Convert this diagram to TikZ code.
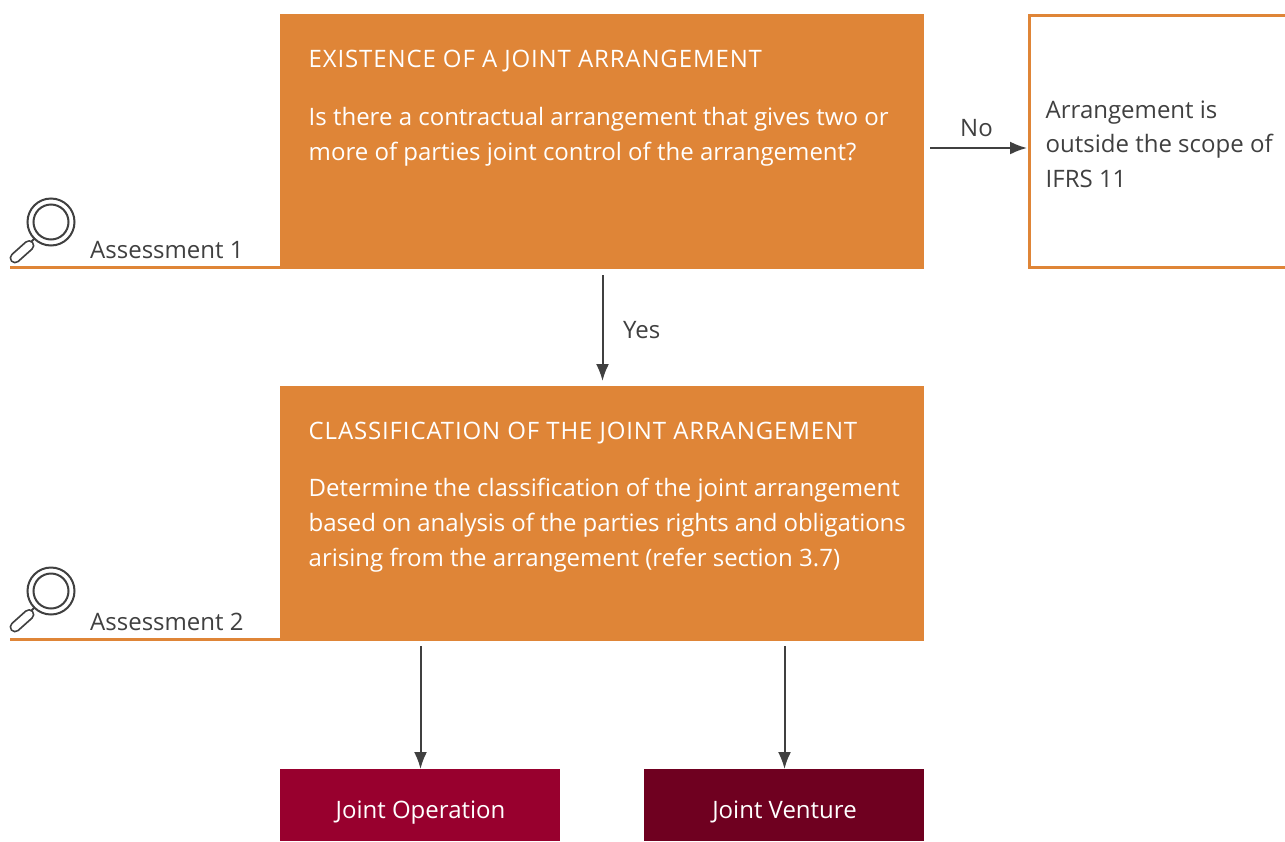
\documentclass[tikz,border=0pt]{standalone}
\usepackage{fontspec}
\setmainfont{Open Sans}
\usetikzlibrary{arrows.meta}
\definecolor{orangeb}{HTML}{DF8537}
\definecolor{txt}{HTML}{404040}
\definecolor{redb}{HTML}{98002E}
\definecolor{darkb}{HTML}{6F0020}
\tikzset{x=1pt,y=-1pt,
 txtl/.style={anchor=base west,inner sep=0,font=\fontsize{24}{28}\selectfont},
 wtxt/.style={txtl,text=white},
 dtxt/.style={txtl,text=txt},
 capt/.style={wtxt,font=\fontsize{24}{28}\selectfont\addfontfeature{LetterSpace=3.6}},
 tight/.style={wtxt,font=\fontsize{24}{28}\selectfont\addfontfeature{LetterSpace=-0.4}},
 box/.style={fill=#1,draw=none,inner sep=0,anchor=north west},
 conn/.style={draw=txt,line width=2pt,-{Latex[length=17pt,width=13pt]}},
 orule/.style={draw=orangeb,line width=2.4pt},
 lensline/.style={draw=txt,line width=2pt},
}
\newcommand{\lens}[2]{%
\begin{scope}[shift={(#1,#2)}]
\draw[lensline] (41,24) circle (23.5);
\draw[lensline] (41,24) circle (17.5);
\draw[lensline] (24.5,40.5) -- (20,45);
\draw[txt,line width=11pt,line cap=round] (19,47.5) -- (5,60);
\draw[white,line width=7.4pt,line cap=round] (19,47.5) -- (5,60);
\end{scope}}
\begin{document}
\begin{tikzpicture}
\useasboundingbox (0,0) rectangle (1285,841);
\fill[white] (0,0) rectangle (1285,841);
\node[box=orangeb,minimum width=644,minimum height=255] (b1) at (280,14) {};
\node[box=orangeb,minimum width=644,minimum height=255] (b2) at (280,386) {};
\node[box=redb,minimum width=280,minimum height=72] (jo) at (280,769) {};
\node[box=darkb,minimum width=280,minimum height=72] (jv) at (644,769) {};
\node[capt] (t1) at (308.5,67) {EXISTENCE OF A JOINT ARRANGEMENT};
\node[wtxt] (t2) at (308.5,125) {Is there a contractual arrangement that gives two or};
\node[wtxt] (t3) at (308.5,160) {more of parties joint control of the arrangement?};
\node[capt] (t4) at (308.5,439) {CLASSIFICATION OF THE JOINT ARRANGEMENT};
\node[wtxt] (t5) at (308.5,496) {Determine the classification of the joint arrangement};
\node[tight] (t6) at (308.5,531) {based on analysis of the parties rights and obligations};
\node[wtxt] (t7) at (308.5,566) {arising from the arrangement (refer section 3.7)};
\node[wtxt,anchor=base] at (420.5,818) {Joint Operation};
\node[wtxt,anchor=base] at (784.5,818) {Joint Venture};
\draw[orangeb,line width=2.6pt] (1285,15.3) -- (1029.5,15.3) -- (1029.5,267.5) -- (1285,267.5);
\node[dtxt] at (1045.5,118) {Arrangement is};
\node[dtxt] at (1045.5,152) {outside the scope of};
\node[dtxt] at (1045.5,187) {IFRS 11};
\node[dtxt] at (960,136) {No};
\node[dtxt] at (623,338) {Yes};
\node[dtxt] at (90,258) {Assessment 1};
\node[dtxt] at (90,630) {Assessment 2};
\coordinate (n1) at (930,148); \coordinate (n2) at (1027,148);
\coordinate (y1) at (602.5,275); \coordinate (y2) at (602.5,381);
\coordinate (o1) at (420.5,646); \coordinate (o2) at (420.5,769);
\coordinate (v1) at (784.5,646); \coordinate (v2) at (784.5,769);
\draw[conn] (n1) -- (n2);
\draw[conn] (y1) -- (y2);
\draw[conn] (o1) -- (o2);
\draw[conn] (v1) -- (v2);
\coordinate (r1) at (10,267.5); \coordinate (r2) at (10,639.5);
\draw[orule] (r1) -- (b1.south west |- r1);
\draw[orule] (r2) -- (b2.south west |- r2);
\lens{10}{198}
\lens{10}{567}
\end{tikzpicture}
\end{document}
